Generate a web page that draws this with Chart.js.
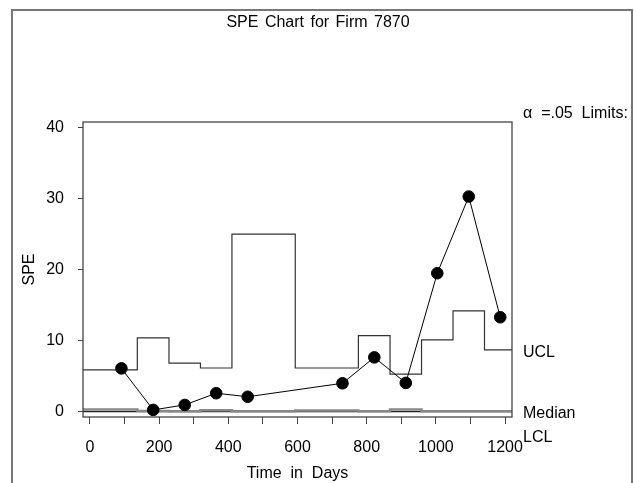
<!DOCTYPE html>
<html>
<head>
<meta charset="utf-8">
<script src="https://cdn.jsdelivr.net/npm/chart.js@4.4.0/dist/chart.umd.min.js"></script>
<style>
  html, body { margin: 0; padding: 0; background: #fff; }
  canvas { display: block; }
</style>
</head>
<body>
<canvas id="spe_chart" width="634" height="483"></canvas>
<script>
// quarterly observation days (two quarters have no SPE value)
const days = [91, 183, 274, 365, 456, 548, 639, 730, 822, 913, 1004, 1095, 1186];
const speValues = [6.1, 0.25, 0.95, 2.6, 2.1, null, null, 4.0, 7.65, 4.05, 19.5, 30.3, 13.3];
const uclValues = [5.9, 10.4, 6.85, 6.15, 25, 25, 6.15, 6.15, 10.7, 5.3, 10.1, 14.2, 8.7];
const medianValues = [0.3, 0.1, 0.05, 0.2, 0.05, 0.05, 0.15, 0.15, 0.05, 0.3, 0.05, 0.05, 0.05];
const lclValues = [0, 0, 0, 0, 0, 0, 0, 0, 0, 0, 0, 0, 0];

const xMin = -20;
const xMax = 1220;
const yMin = -0.75;
const yMax = 40.8;
const xLabelStep = 200;

const FONT = "'Liberation Sans', Arial, Helvetica, sans-serif";

// limit lines run edge to edge of the frame
const limitDays = [xMin, ...days, xMax];
const limitSeries = (vals) =>
  limitDays.map((d, i) => ({ x: d, y: vals[Math.min(Math.max(i - 1, 0), vals.length - 1)] }));

const framePlugin = {
  id: "frame",
  beforeDraw(chart) {
    const { ctx } = chart;
    ctx.save();
    ctx.strokeStyle = "#777";
    ctx.lineWidth = 2;
    ctx.strokeRect(12, 10, 620, 490);

    ctx.fillStyle = "#000";
    ctx.font = "16px " + FONT;
    ctx.textAlign = "center";
    ctx.textBaseline = "middle";
    ctx.wordSpacing = "2px";
    ctx.fillText("SPE Chart for Firm 7870", 318, 23);
    ctx.restore();
  },
  afterDraw(chart) {
    const { ctx, chartArea: a, scales } = chart;
    const y = scales.y;
    ctx.save();
    ctx.strokeStyle = "#444";
    ctx.lineWidth = 1.3;
    ctx.strokeRect(a.left, a.top, a.right - a.left, a.bottom - a.top);

    ctx.fillStyle = "#000";
    ctx.font = "16px " + FONT;
    ctx.textAlign = "left";
    ctx.textBaseline = "middle";
    const lx = a.right + 11;
    ctx.fillText("UCL", lx, y.getPixelForValue(uclValues[uclValues.length - 1]) + 3);
    ctx.fillText("Median", lx, y.getPixelForValue(0) + 2);
    ctx.fillText("LCL", lx, y.getPixelForValue(0) + 26);
    ctx.fillText("\u03b1  =.05  Limits:", lx, a.top - 8);
    ctx.restore();
  },
};

new Chart("spe_chart", {
  type: "line",
  data: {
    datasets: [
      {
        label: "SPE",
        data: days.map((d, i) => ({ x: d, y: speValues[i] })),
        borderColor: "#000",
        borderWidth: 1,
        pointRadius: 5.8,
        pointBackgroundColor: "#000",
        pointBorderColor: "#000",
        spanGaps: true,
      },
      {
        label: "UCL",
        data: limitSeries(uclValues),
        stepped: "middle",
        borderColor: "#333",
        borderWidth: 1.2,
        pointRadius: 0,
      },
      {
        label: "Median",
        data: limitSeries(medianValues),
        stepped: "middle",
        borderColor: "#888",
        borderWidth: 2.5,
        pointRadius: 0,
      },
      {
        label: "LCL",
        data: limitSeries(lclValues),
        borderColor: "#222",
        borderWidth: 1.3,
        pointRadius: 0,
      },
    ],
  },
  options: {
    responsive: false,
    animation: false,
    layout: { padding: { left: 0, right: 122, top: 122, bottom: 0 } },
    plugins: {
      legend: { display: false },
      tooltip: { enabled: false },
    },
    scales: {
      x: {
        type: "linear",
        min: xMin,
        max: xMax,
        border: { display: false },
        grid: { drawOnChartArea: false, drawTicks: true, tickLength: 7, color: "#444", lineWidth: 1 },
        ticks: {
          stepSize: 100,
          includeBounds: false,
          autoSkip: false,
          maxRotation: 0,
          padding: 14,
          color: "#000",
          font: { family: FONT, size: 16 },
          callback: (v) => (v % xLabelStep === 0 ? v : ""),
        },
        title: {
          display: true,
          text: "Time  in  Days",
          color: "#000",
          font: { family: FONT, size: 16 },
          padding: { top: 0, bottom: 0 },
        },
        afterFit: (s) => { s.height = 66; },
      },
      y: {
        min: yMin,
        max: yMax,
        border: { display: false },
        grid: { drawOnChartArea: false, drawTicks: true, tickLength: 5, color: "#444", lineWidth: 1 },
        ticks: {
          stepSize: 10,
          includeBounds: false,
          padding: 14,
          color: "#000",
          font: { family: FONT, size: 16 },
        },
        title: {
          display: true,
          text: "SPE",
          color: "#000",
          font: { family: FONT, size: 16 },
          padding: { top: 20, bottom: 0 },
        },
        afterFit: (s) => { s.width = 83; },
      },
    },
  },
  plugins: [framePlugin],
});
</script>
</body>
</html>
